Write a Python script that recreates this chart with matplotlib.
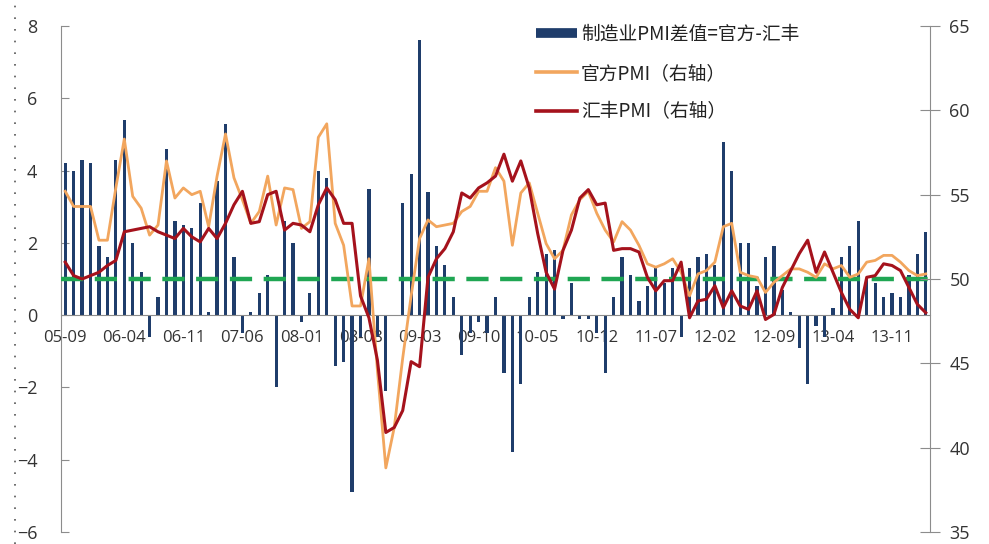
import numpy as np
import pandas as pd
import matplotlib
matplotlib.use("Agg")
import matplotlib.pyplot as plt
from matplotlib.lines import Line2D

# months on the category axis
months = pd.period_range("2005-09", "2014-03", freq="M").strftime("%y-%m").tolist()
tick_labels = ["05-09", "06-04", "06-11", "07-06", "08-01", "08-08", "09-03",
               "09-10", "10-05", "10-12", "11-07", "12-02", "12-09", "13-04", "13-11"]

# official (NBS) manufacturing PMI, right axis
official = [55.2, 54.3, 54.3, 54.3, 52.3, 52.3, 55.4, 58.3, 54.9, 54.2, 52.6, 53.2,
            57.0, 54.8, 55.4, 55.0, 55.2, 53.1, 56.1, 58.6, 56.0, 54.7, 53.3, 54.0,
            56.1, 53.2, 55.4, 55.3, 53.0, 53.4, 58.4, 59.2, 53.3, 52.0, 48.4, 48.4,
            51.2, 44.6, 38.8, 41.2, 45.3, 49.0, 52.4, 53.5, 53.1, 53.2, 53.3, 54.0,
            54.3, 55.2, 55.2, 56.6, 55.8, 52.0, 55.1, 55.7, 53.9, 52.1, 51.2, 51.7,
            53.8, 54.7, 55.2, 53.9, 52.9, 52.2, 53.4, 52.9, 52.0, 50.9, 50.7, 50.9,
            51.2, 50.4, 49.0, 50.3, 50.5, 51.0, 53.1, 53.3, 50.4, 50.2, 50.1, 49.2,
            49.8, 50.2, 50.6, 50.6, 50.4, 50.1, 50.9, 50.6, 50.8, 50.1, 50.3, 51.0,
            51.1, 51.4, 51.4, 51.0, 50.5, 50.2, 50.3]

# HSBC manufacturing PMI, right axis
hsbc = [51.0, 50.2, 50.0, 50.2, 50.4, 50.8, 51.1, 52.8, 52.9, 53.0, 53.1, 52.8,
        52.6, 52.4, 53.0, 52.5, 52.2, 53.0, 52.4, 53.3, 54.4, 55.2, 53.3, 53.4,
        55.0, 55.2, 52.9, 53.3, 53.2, 52.8, 54.4, 55.4, 54.7, 53.3, 53.3, 49.0,
        47.7, 45.2, 40.9, 41.2, 42.2, 45.1, 44.8, 50.1, 51.2, 51.8, 52.8, 55.1,
        54.8, 55.4, 55.7, 56.1, 57.4, 55.8, 57.0, 55.4, 52.7, 50.4, 49.4, 51.7,
        52.9, 54.8, 55.3, 54.4, 54.5, 51.7, 51.8, 51.8, 51.6, 50.1, 49.3, 49.9,
        49.9, 51.0, 47.7, 48.7, 48.8, 49.6, 48.3, 49.3, 48.4, 48.2, 49.3, 47.6,
        47.9, 49.5, 50.5, 51.5, 52.3, 50.4, 51.6, 50.4, 49.2, 48.2, 47.7, 50.1,
        50.2, 50.9, 50.8, 50.5, 49.5, 48.5, 48.0]

# difference official - HSBC as drawn by the bars, left axis
diff = [4.2, 4.0, 4.3, 4.2, 1.9, 1.6, 4.3, 5.4, 2.0, 1.2, -0.6, 0.5,
        4.6, 2.6, 2.5, 2.4, 3.1, 0.1, 3.7, 5.3, 1.6, -0.5, 0.1, 0.6,
        1.1, -2.0, 2.6, 2.0, -0.2, 0.6, 4.0, 3.8, -1.4, -1.3, -4.9, -0.6,
        3.5, -0.6, -2.1, 0.0, 3.1, 3.9, 7.6, 3.4, 1.9, 1.4, 0.5, -1.1,
        -0.5, -0.2, -0.5, 0.5, -1.6, -3.8, -1.9, 0.5, 1.2, 1.7, 1.8, -0.1,
        0.9, -0.1, -0.1, -0.5, -1.6, 0.5, 1.6, 1.1, 0.4, 0.8, 1.3, 0.9,
        1.3, -0.6, 1.3, 1.6, 1.7, 1.4, 4.8, 4.0, 2.0, 2.0, 0.8, 1.6,
        1.9, 0.7, 0.1, -0.9, -1.9, -0.3, -0.6, 0.2, 1.6, 1.9, 2.6, 1.0,
        0.9, 0.5, 0.6, 0.5, 1.1, 1.7, 2.3]

bar_color = "#1f3d6b"
orange = "#f2a65e"
red = "#a5121c"
green = "#1fa653"
gray = "#8c8c8c"

fig = plt.figure(figsize=(9.89, 5.44), dpi=100)
ax = fig.add_axes([61 / 989, 1 - 532 / 544, (930 - 61) / 989, (532 - 26) / 544])
ax2 = ax.twinx()

x = np.arange(len(months))
ax.bar(x, diff, width=0.38, color=bar_color, zorder=2)

ax2.axhline(50, color=green, lw=3.2, ls=(0, (5, 2.6)), zorder=1)
ax2.plot(x, official, color=orange, lw=2.0, zorder=3)
ax2.plot(x, hsbc, color=red, lw=2.2, zorder=4)

ax.set_xlim(-0.5, len(months) - 0.5)
ax.set_ylim(-6, 8)
ax2.set_ylim(35, 65)
ax.set_yticks(range(-6, 9, 2))
ax2.set_yticks(range(35, 66, 5))

ax.set_xticks([months.index(t) for t in tick_labels])
ax.set_xticklabels(tick_labels)

ax.spines["bottom"].set_position(("data", 0))
for a in (ax, ax2):
    a.spines["top"].set_visible(False)
ax.spines["right"].set_visible(False)
ax2.spines["bottom"].set_visible(False)
ax2.spines["left"].set_visible(False)
ax.spines["left"].set_color(gray)
ax.spines["bottom"].set_color(gray)
ax2.spines["right"].set_color(gray)

tick_font = "Open Sans"
ax.tick_params(axis="x", length=0, pad=11, labelsize=12, labelcolor="#333333")
ax.tick_params(axis="y", direction="in", length=6, color=gray, pad=17,
               labelsize=13, labelcolor="#333333")
ax2.tick_params(axis="y", direction="inout", length=14, color=gray, pad=7,
                labelsize=13, labelcolor="#333333")
for lab in ax.get_xticklabels() + ax.get_yticklabels() + ax2.get_yticklabels():
    lab.set_fontfamily(tick_font)

handles = [Line2D([], [], color=bar_color, lw=7, solid_capstyle="butt"),
           Line2D([], [], color=orange, lw=2.6),
           Line2D([], [], color=red, lw=2.6)]
labels = ["制造业PMI差值=官方-汇丰", "官方PMI（右轴）", "汇丰PMI（右轴）"]
leg = ax2.legend(handles, labels, loc="upper left",
                 bbox_to_anchor=(536 / 989, 1 - 24 / 544),
                 bbox_transform=fig.transFigure, frameon=False,
                 prop={"family": ["Noto Sans CJK SC", "DejaVu Sans"], "size": 13.5},
                 handlelength=2.2, handletextpad=0.2, labelspacing=0.95,
                 borderpad=0, borderaxespad=0)
for t in leg.get_texts():
    t.set_color("#222222")

# dotted border on the far left of the picture
fig.add_artist(Line2D([15 / 989, 15 / 989], [0, 1], transform=fig.transFigure,
                      color="#555555", lw=1.2, ls=(0, (1, 6))))

fig.savefig("out.png", dpi=100)
